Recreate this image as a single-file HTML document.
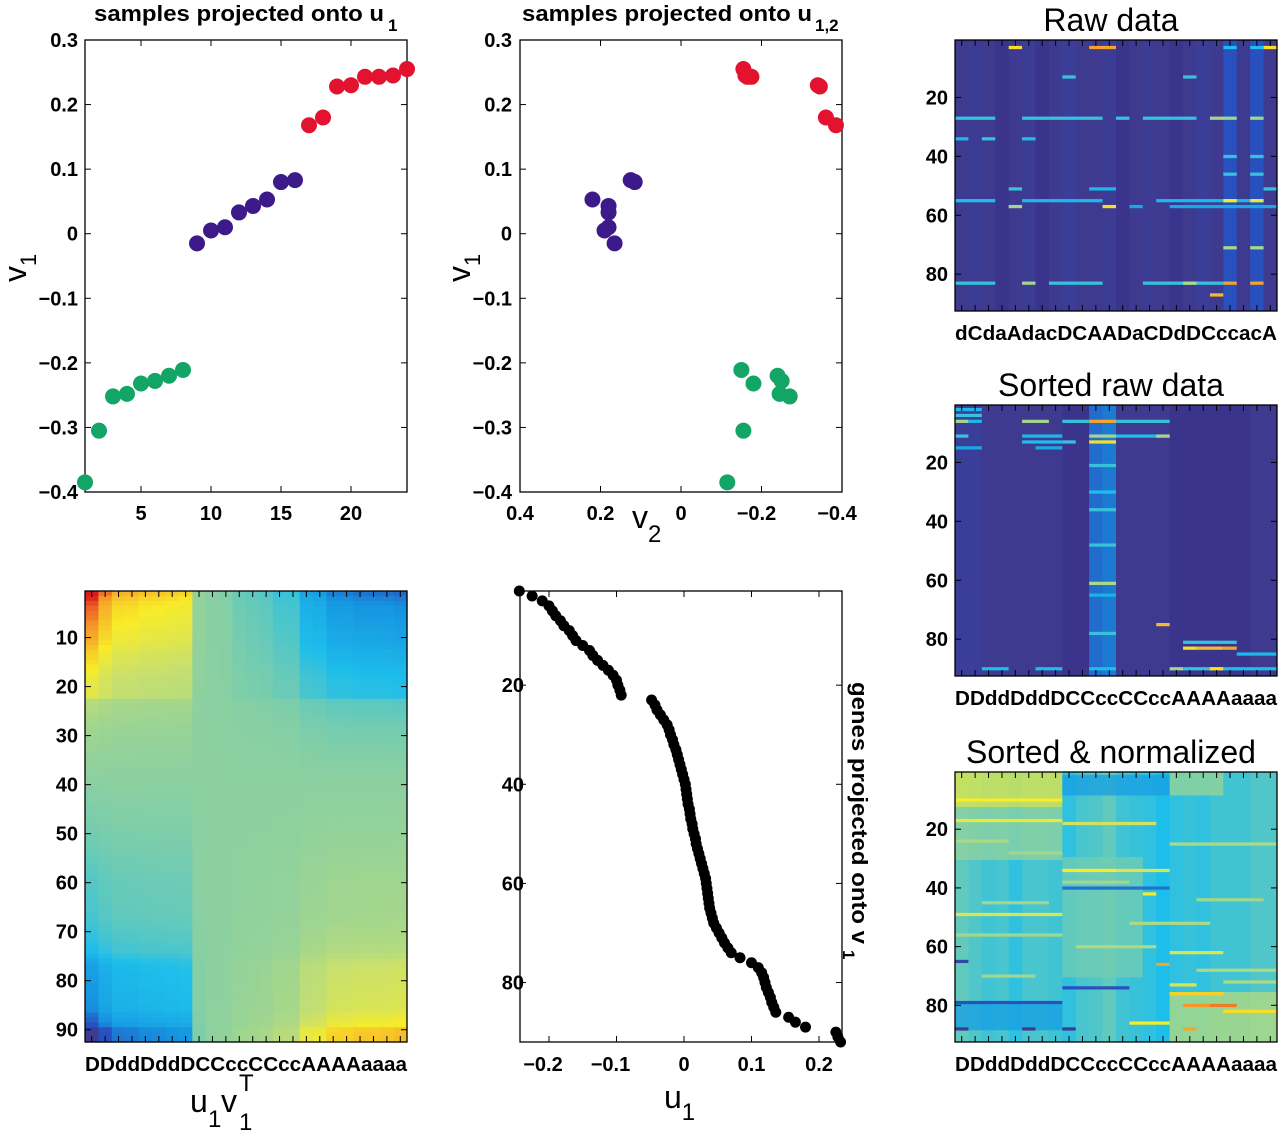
<!DOCTYPE html>
<html><head><meta charset="utf-8"><style>
html,body{margin:0;padding:0;background:#fff;}
svg{display:block;font-family:"Liberation Sans",Arial,sans-serif;}
.tk{font-size:20px;font-weight:bold;fill:#000;}
</style></head><body>
<svg id="fig" width="1280" height="1133" viewBox="0 0 1280 1133" xmlns="http://www.w3.org/2000/svg"></svg>
<script>
// ---- data ----
const sampleIdx = [1,2,3,4,5,6,7,8,9,10,11,12,13,14,15,16,17,18,19,20,21,22,23,24];
const v1 = [-0.385,-0.305,-0.252,-0.248,-0.232,-0.228,-0.22,-0.211,-0.015,0.005,0.01,0.033,0.043,0.053,0.08,0.083,0.168,0.18,0.228,0.23,0.243,0.243,0.245,0.255];
const groupOf = ['g','g','g','g','g','g','g','g','p','p','p','p','p','p','p','p','r','r','r','r','r','r','r','r'];
const v2 = [-0.115,-0.155,-0.27,-0.245,-0.18,-0.25,-0.24,-0.15, 0.165,0.19,0.18,0.18,0.18,0.22,0.115,0.125, -0.385,-0.36,-0.345,-0.34,-0.175,-0.165,-0.16,-0.155];
const u1 = [-0.244,-0.225,-0.21,-0.2,-0.195,-0.19,-0.183,-0.178,-0.17,-0.165,-0.16,-0.15,-0.14,-0.135,-0.128,-0.12,-0.112,-0.105,-0.1,-0.098,-0.095,-0.093,
 -0.048,-0.043,-0.04,-0.035,-0.03,-0.025,-0.022,-0.02,-0.017,-0.015,-0.012,-0.01,-0.008,-0.006,-0.004,-0.002,0,0.002,
 0.003,0.004,0.005,0.006,0.008,0.009,0.01,0.012,0.013,0.015,0.017,0.018,0.02,0.022,0.024,0.026,0.028,0.03,0.032,0.033,
 0.034,0.035,0.036,0.037,0.038,0.04,0.042,0.044,0.048,0.052,0.056,0.06,0.065,0.07,0.083,
 0.1,0.11,0.115,0.118,0.12,0.122,0.125,0.128,0.13,0.133,0.136,0.155,0.165,0.18,0.225,0.228,0.232];
const yTicksV = [0.3,0.2,0.1,0,-0.1,-0.2,-0.3,-0.4];
const yTickLabelsV = ['0.3','0.2','0.1','0','\u22120.1','\u22120.2','\u22120.3','\u22120.4'];
const xTicks1 = [5,10,15,20];
const xTicks2 = [0.4,0.2,0,-0.2,-0.4];
const xTickLabels2 = ['0.4','0.2','0','\u22120.2','\u22120.4'];
const xTicks5 = [-0.2,-0.1,0,0.1,0.2];
const xTickLabels5 = ['\u22120.2','\u22120.1','0','0.1','0.2'];
const rowTicks5 = [20,40,60,80];
const rowTicksHeat = [10,20,30,40,50,60,70,80,90];
const rowTicksRight = [20,40,60,80];
const labelsRaw = 'dCdaAdacDCAADaCDdDCccacA';
const labelsSorted = 'DDddDddDCCccCCccAAAAaaaa';
// raw-data heatmap: base level per column, then highlight stripes [row, colStart, colEnd, level]
const rawColBase = [0.1,0.11,0.1,0.08,0.1,0.11,0.08,0.1,0.12,0.1,0.1,0.11,0.08,0.1,0.11,0.1,0.08,0.1,0.12,0.1,0.2,0.1,0.2,0.1];
const rawStripes = [[3,4,4,0.8],[3,10,11,0.88],[3,23,23,0.8],[3,20,20,0.42],[3,22,22,0.42],[13,8,8,0.45],[13,17,17,0.45],
 [27,0,2,0.45],[27,5,10,0.45],[27,12,12,0.45],[27,14,17,0.45],[27,19,20,0.6],[27,22,22,0.6],[34,0,0,0.4],[34,2,2,0.45],[34,5,5,0.42],
 [40,20,20,0.45],[40,22,22,0.45],[46,20,20,0.45],[46,22,22,0.45],[51,4,4,0.45],[51,10,11,0.4],[51,23,23,0.45],
 [55,0,2,0.42],[55,5,10,0.4],[55,15,22,0.4],[55,20,20,0.78],[55,22,22,0.75],[57,4,4,0.6],[57,11,11,0.8],[57,13,13,0.35],[57,16,23,0.35],
 [71,20,20,0.62],[71,22,22,0.62],[83,0,2,0.45],[83,5,5,0.6],[83,7,10,0.45],[83,14,19,0.45],[83,17,17,0.62],[83,20,20,0.88],[83,22,22,0.88],[87,19,19,0.85]];
// sorted raw heatmap
const sortedColBase = [0.12,0.12,0.1,0.1,0.1,0.1,0.1,0.1,0.08,0.08,0.24,0.26,0.1,0.1,0.1,0.1,0.08,0.08,0.08,0.08,0.08,0.08,0.1,0.1];
const sortedStripes = [[2,0,1,0.4],[4,0,1,0.45],[6,0,0,0.6],[6,1,1,0.4],[6,5,6,0.6],[6,8,9,0.45],[6,10,11,0.88],[6,12,15,0.45],
 [11,0,0,0.45],[11,5,7,0.4],[11,10,11,0.6],[11,12,15,0.42],[11,15,15,0.6],[13,5,7,0.42],[13,8,8,0.45],[13,10,11,0.8],[15,0,1,0.35],[15,6,7,0.35],
 [21,10,11,0.45],[30,10,11,0.42],[36,10,11,0.45],[48,10,11,0.45],[61,10,11,0.62],[65,10,11,0.38],[75,15,15,0.85],[78,10,11,0.45],
 [81,17,20,0.45],[83,17,17,0.8],[83,18,19,0.85],[83,20,20,0.88],[85,21,23,0.4],[90,2,3,0.42],[90,6,7,0.42],[90,10,11,0.42],[90,16,16,0.6],[90,17,19,0.45],[90,19,19,0.8],[90,20,23,0.42]];
// sorted & normalized heatmap
const normColBase = [0.5,0.48,0.46,0.47,0.44,0.47,0.47,0.46,0.44,0.47,0.48,0.5,0.46,0.45,0.44,0.42,0.44,0.45,0.44,0.46,0.46,0.46,0.48,0.48];
const normBlocks = [[1,12,0,7,0.74],[1,8,16,19,0.58],[13,30,0,7,0.56],[76,92,16,23,0.64],[80,88,0,7,0.32],[2,8,8,15,0.32],[30,70,8,13,0.52]];
const normStripes = [[10,0,7,0.78],[17,0,7,0.75],[18,8,14,0.7],[34,8,11,0.78],[34,12,15,0.72],[40,8,15,0.25],[42,14,14,0.78],[49,0,7,0.72],
 [56,0,7,0.6],[62,16,19,0.72],[65,0,0,0.15],[66,15,15,0.88],[73,16,17,0.72],[74,8,12,0.2],[76,16,19,0.8],[76,16,19,0.82],[79,0,7,0.2],[80,17,18,0.9],[80,19,20,0.92],[82,20,23,0.8],[86,13,15,0.78],[88,0,0,0.1],[88,5,5,0.1],[88,8,8,0.1],[88,17,17,0.88],
 [24,0,3,0.62],[28,4,7,0.6],[38,8,12,0.6],[45,2,6,0.6],[52,13,18,0.62],[60,9,14,0.62],[68,18,23,0.62],[70,2,5,0.6],[72,20,23,0.62],[25,16,23,0.62],[44,18,22,0.6]];

// ---- helpers ----
const NS='http://www.w3.org/2000/svg';
const svg=document.getElementById('fig');
function mk(tag,attrs,parent){const e=document.createElementNS(NS,tag);for(const k in attrs)e.setAttribute(k,attrs[k]);(parent||svg).appendChild(e);return e;}
function txt(s,x,y,attrs,parent){const t=mk('text',Object.assign({x:x,y:y},attrs),parent);t.textContent=s;return t;}
function sub(t,s,size,dy){const ts=mk('tspan',{'font-size':size,dy:dy},t);ts.textContent=s;return ts;}
function lin(d0,d1,r0,r1){return v=>r0+(v-d0)/(d1-d0)*(r1-r0);}
const stops=[[0,[43,27,133]],[0.1,[62,58,143]],[0.2,[40,80,190]],[0.3,[22,150,225]],[0.42,[30,190,235]],[0.55,[140,208,160]],[0.68,[200,224,110]],[0.78,[248,236,40]],[0.9,[245,150,40]],[1,[220,24,32]]];
function cmap(t){t=Math.max(0,Math.min(1,t));for(let i=1;i<stops.length;i++){if(t<=stops[i][0]){const a=stops[i-1],b=stops[i];const f=(t-a[0])/(b[0]-a[0]);const c=a[1].map((v,k)=>Math.round(v+(b[1][k]-v)*f));return 'rgb('+c.join(',')+')';}}return 'rgb(220,24,32)';}
function box(x0,y0,x1,y1,name){const g=mk('g',{});mk('rect',{x:x0,y:y0,width:x1-x0,height:y1-y0,fill:'none',stroke:'#000','stroke-width':1.3},g);return g;}
function xtick(g,x,y0,y1){mk('line',{x1:x,x2:x,y1:y0,y2:y0-6,stroke:'#000','stroke-width':1},g);mk('line',{x1:x,x2:x,y1:y1,y2:y1+6,stroke:'#000','stroke-width':1},g);}
function ytick(g,y,x0,x1){mk('line',{x1:x0,x2:x0+6,y1:y,y2:y,stroke:'#000','stroke-width':1},g);mk('line',{x1:x1,x2:x1-6,y1:y,y2:y,stroke:'#000','stroke-width':1},g);}
const colors={g:'#13a566',p:'#3d1a8a',r:'#e3122e'};

// ---- panel 1 ----
(function(){
 const X0=85,X1=407,Y0=40,Y1=492;
 const xs=lin(1,24,X0,X1), ys=lin(0.3,-0.4,Y0,Y1);
 const t=txt('samples projected onto u',94,21,{'font-size':22,'font-weight':'bold',textLength:290,lengthAdjust:'spacingAndGlyphs'});
 
 txt('1',388,31,{'font-size':17,'font-weight':'bold'});
 const g=box(X0,Y0,X1,Y1,'panel1-axes');
 yTicksV.forEach((v,i)=>{ytick(g,ys(v),X0,X1);txt(yTickLabelsV[i],78,ys(v)+7,{class:'tk','text-anchor':'end'},g);});
 xTicks1.forEach(v=>{xtick(g,xs(v),Y1,Y0);txt(String(v),xs(v),520,{class:'tk','text-anchor':'middle'},g);});
 const yl=txt('v',0,0,{'font-size':32,transform:'translate(26,282) rotate(-90)'});
 sub(yl,'1',22,10);
 
 sampleIdx.forEach((s,i)=>{const c=mk('circle',{cx:xs(s),cy:ys(v1[i]),r:8,fill:colors[groupOf[i]]},g);
  });
})();

// ---- panel 2 ----
(function(){
 const X0=520,X1=842,Y0=40,Y1=492;
 const xs=lin(0.4,-0.4,X0,X1), ys=lin(0.3,-0.4,Y0,Y1);
 const t=txt('samples projected onto u',522,21,{'font-size':22,'font-weight':'bold',textLength:290,lengthAdjust:'spacingAndGlyphs'});
 
 txt('1,2',815,31,{'font-size':17,'font-weight':'bold'});
 const g=box(X0,Y0,X1,Y1,'panel2-axes');
 yTicksV.forEach((v,i)=>{ytick(g,ys(v),X0,X1);txt(yTickLabelsV[i],512,ys(v)+7,{class:'tk','text-anchor':'end'},g);});
 xTicks2.forEach((v,i)=>{xtick(g,xs(v),Y1,Y0);txt(xTickLabels2[i],xs(v)-(v<0?5:0),520,{class:'tk','text-anchor':'middle'},g);});
 const yl=txt('v',0,0,{'font-size':32,transform:'translate(470,282) rotate(-90)'});
 sub(yl,'1',22,10);
 
 const xl=txt('v',632,528,{'font-size':32});
 sub(xl,'2',24,14);
 v2.forEach((x,i)=>{const c=mk('circle',{cx:xs(x),cy:ys(v1[i]),r:8,fill:colors[groupOf[i]]},g);
  });
})();

// ---- panel 3: u1 v1^T heatmap ----
(function(){
 const X0=85,X1=407,Y0=591,Y1=1042;
 const cw=(X1-X0)/24, rh=(Y1-Y0)/92;
 const order=v1.map((v,i)=>i).sort((a,b)=>v1[a]-v1[b]);
 const g=mk('g',{});
 const mx=0.089;
 u1.forEach((u,r)=>{order.forEach((j,c)=>{const val=u*v1[j];
  mk('rect',{x:X0+c*cw,y:Y0+r*rh,width:cw+0.6,height:rh+0.6,fill:cmap(0.55+val/mx*0.45)},g);});});
 const b=box(X0,Y0,X1,Y1,'rank1-heatmap-axes');
 const ys=lin(0.5,92.5,Y0,Y1);
 rowTicksHeat.forEach(v=>{ytick(b,ys(v),X0,X1);txt(String(v),78,ys(v)+7,{class:'tk','text-anchor':'end'},b);});
 for(let c=0;c<24;c++) xtick(b,X0+(c+0.5)*cw,Y1,Y0);
 const xl=txt(labelsSorted,X0,1071,{'font-size':20,'font-weight':'bold',textLength:X1-X0,lengthAdjust:'spacingAndGlyphs'});
 
 const t=txt('u',190,1112,{'font-size':32});
 txt('1',208,1127,{'font-size':24});txt('v',221,1112,{'font-size':32});txt('1',239,1130,{'font-size':24});txt('T',239,1091,{'font-size':24});
})();

// ---- panel 5: genes projected ----
(function(){
 const X0=520,X1=842,Y0=591,Y1=1042;
 const xs=lin(0,0.1,684,751.5), ys=lin(1,92,Y0,Y1);
 const g=box(X0,Y0,X1,Y1,'genes-axes');
 xTicks5.forEach((v,i)=>{xtick(g,xs(v),Y1,Y0);txt(xTickLabels5[i],xs(v)-(v<0?6:0),1071,{class:'tk','text-anchor':'middle'},g);});
 rowTicks5.forEach(v=>{ytick(g,ys(v),X0,X1);txt(String(v),524,ys(v)+7,{class:'tk','text-anchor':'end'},g);});
 u1.forEach((u,i)=>{const c=mk('circle',{cx:xs(u),cy:ys(i+1),r:5.5,fill:'#000'},g);
  });
 const xl=txt('u',664,1108,{'font-size':32});
 sub(xl,'1',24,12);
 const yl=txt('genes projected onto v',0,0,{'font-size':22,'font-weight':'bold',textLength:262,lengthAdjust:'spacingAndGlyphs',transform:'translate(852,682) rotate(90)'});
 
 txt('1',0,0,{'font-size':17,'font-weight':'bold',transform:'translate(843,950) rotate(90)'});
})();

// ---- right column heatmaps ----
function heat(Y0,Y1,title,name,labels,colBase,stripes,blocks){
 const X0=955,X1=1277,cw=(X1-X0)/24,rh=(Y1-Y0)/92;
 const g=mk('g',{});
 colBase.forEach((t,c)=>mk('rect',{x:X0+c*cw,y:Y0,width:cw+0.5,height:Y1-Y0,fill:cmap(t)},g));
 (blocks||[]).forEach(b=>mk('rect',{x:X0+b[2]*cw,y:Y0+(b[0]-1)*rh,width:(b[3]-b[2]+1)*cw,height:(b[1]-b[0]+1)*rh,fill:cmap(b[4]),opacity:0.75},g));
 stripes.forEach(s=>mk('rect',{x:X0+s[1]*cw,y:Y0+(s[0]-1)*rh,width:(s[2]-s[1]+1)*cw,height:rh+0.3,fill:cmap(s[3])},g));
 const b=box(X0,Y0,X1,Y1,name+'-axes');
 const ys=lin(0.5,92.5,Y0,Y1);
 rowTicksRight.forEach(v=>{ytick(b,ys(v),X0,X1);txt(String(v),948,ys(v)+7,{class:'tk','text-anchor':'end'},b);});
 for(let c=0;c<24;c++) xtick(b,X0+(c+0.5)*cw,Y1,Y0);
 const t=txt(title,1111,Y0-9,{'font-size':32,'text-anchor':'middle'});
 
 const l=txt(labels,X0,Y1+29,{'font-size':20,'font-weight':'bold',textLength:X1-X0,lengthAdjust:'spacingAndGlyphs'});
 
}
heat(40,311,'Raw data','raw-data-heatmap',labelsRaw,rawColBase,rawStripes);
heat(405,676,'Sorted raw data','sorted-raw-heatmap',labelsSorted,sortedColBase,sortedStripes);
heat(772,1042,'Sorted & normalized','normalized-heatmap',labelsSorted,normColBase,normStripes,normBlocks);
</script>
</body></html>
